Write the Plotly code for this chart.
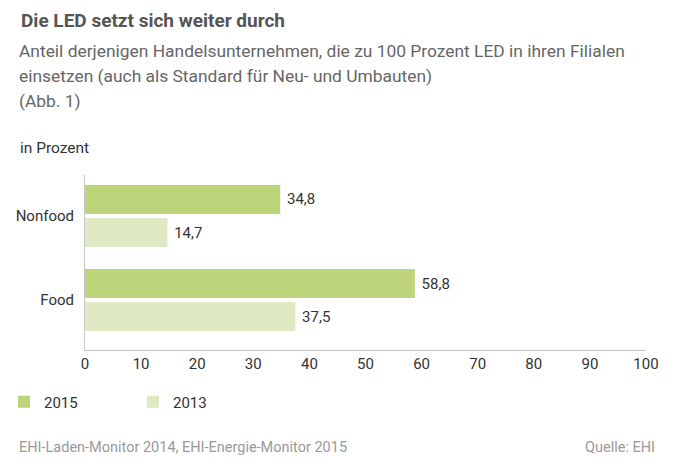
import plotly.graph_objects as go

categories = ['Food', 'Nonfood']
years = ['2015', '2013']
values_2015 = [58.8, 34.8]
values_2013 = [37.5, 14.7]
x_ticks = list(range(0, 101, 10))

title = 'Die LED setzt sich weiter durch'
subtitle = ['Anteil derjenigen Handelsunternehmen, die zu 100 Prozent LED in ihren Filialen',
            'einsetzen (auch als Standard für Neu- und Umbauten)',
            '(Abb. 1)']
unit = 'in Prozent'
source_left = 'EHI-Laden-Monitor 2014, EHI-Energie-Monitor 2015'
source_right = 'Quelle: EHI'

FONT = 'Roboto, Arial, sans-serif'
DARK = '#bed47b'
LIGHT = '#dfeac5'

# die Seite hat 8px Rand (body margin), daher alles um 8px verschieben
OFF = 8
W, H = 675 - OFF, 467 - OFF
L, R, T, B = 85 - OFF, 29, 175 - OFF, 467 - 350
PW, PH = W - L - R, H - T - B


def px(x):  # Pixel im Bild -> paper x
    return (x - OFF - L) / PW


def py(y):  # Pixel im Bild -> paper y
    return (H - B - (y - OFF)) / PH


def fmt(v):
    return '\u00a0' + f'{v:.1f}'.replace('.', ',')


fig = go.Figure()
# 2013 zuerst, damit 2015 oben im Block liegt
fig.add_trace(go.Bar(y=categories, x=values_2013, orientation='h', name=years[1],
                     marker=dict(color=LIGHT, line=dict(width=0)),
                     text=[fmt(v) for v in values_2013], textposition='outside',
                     textfont=dict(size=15, color='#333', family=FONT), cliponaxis=False))
fig.add_trace(go.Bar(y=categories, x=values_2015, orientation='h', name=years[0],
                     marker=dict(color=DARK, line=dict(width=0)),
                     text=[fmt(v) for v in values_2015], textposition='outside',
                     textfont=dict(size=15, color='#333', family=FONT), cliponaxis=False))

ann = [dict(text='<b>' + title + '</b>', x=px(19), y=py(20), font=dict(size=19, color='#555'))]
for i, line in enumerate(subtitle):
    ann.append(dict(text=line, x=px(17), y=py(51 + 25 * i), font=dict(size=17.4, color='#666')))
ann.append(dict(text=unit, x=px(18), y=py(148), font=dict(size=15.5, color='#333')))
ann.append(dict(text=source_left, x=px(17), y=py(447), font=dict(size=14.5, color='#999')))
for a in ann:
    a.update(xref='paper', yref='paper', xanchor='left', yanchor='middle', showarrow=False)
    a['font']['family'] = FONT
ann.append(dict(text=source_right, x=px(657), y=py(447), xref='paper', yref='paper',
                xanchor='right', yanchor='middle', showarrow=False,
                font=dict(size=14.5, color='#999', family=FONT)))

fig.update_layout(
    width=W, height=H,
    margin=dict(l=L, r=R, t=T, b=B, autoexpand=False),
    paper_bgcolor='white', plot_bgcolor='white',
    font=dict(family=FONT, size=15, color='#333'),
    barmode='group', bargap=0.214, bargroupgap=0.121,
    annotations=ann,
    legend=dict(orientation='h', x=px(4), y=py(402), xanchor='left', yanchor='middle',
                traceorder='reversed', entrywidth=84, entrywidthmode='pixels',
                font=dict(size=15, color='#333', family=FONT)),
    xaxis=dict(range=[0, 100], tickvals=x_ticks, showgrid=False, zeroline=False,
               showline=True, linecolor='#c8c8c8', linewidth=1, ticks='', automargin=False,
               tickfont=dict(size=15, color='#333')),
    yaxis=dict(range=[-0.595, 1.488], showgrid=False, zeroline=False,
               showline=True, linecolor='#c8c8c8', linewidth=1, ticks='', automargin=False,
               ticklabelstandoff=7, tickfont=dict(size=15, color='#333')),
)

fig.write_html('out.html')
